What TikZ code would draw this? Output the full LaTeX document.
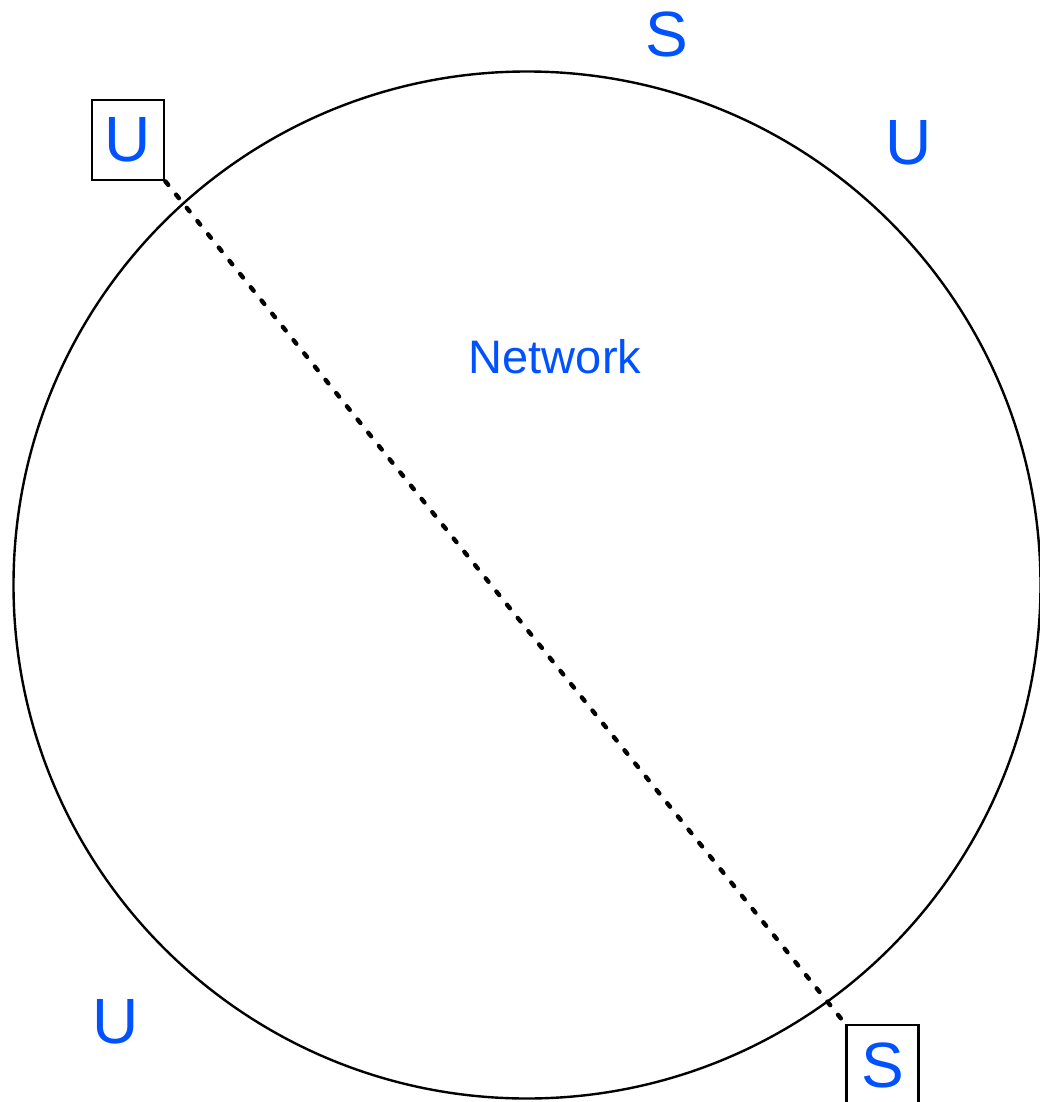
\documentclass[tikz,border=0pt]{standalone}
\usepackage{fontspec}
\setmainfont{Liberation Sans}
\definecolor{lblue}{RGB}{0,82,255}
\begin{document}
\begin{tikzpicture}[x=1pt,y=-1pt,
  lbl/.style={text=lblue, font=\fontsize{64}{64}\selectfont, inner sep=0pt},
  boxnode/.style={draw, line width=2.8pt, minimum width=72pt, minimum height=80pt, inner sep=0pt, text=lblue, font=\fontsize{64}{64}\selectfont},
  ring/.style={draw, circle, line width=2.4pt, minimum size=1027pt, inner sep=0pt},
  link/.style={line width=4.4pt, line cap=round, dash pattern=on 4.5pt off 12.5pt}]
\useasboundingbox (0,0) rectangle (1040,1102);
\clip (0,0) rectangle (1040,1102);
\node[ring] (net) at (527,585) {};
\node[text=lblue, font=\fontsize{47}{47}\selectfont, inner sep=0pt] (netlbl) at (555,357) {Network};
\node[boxnode] (ubox) at (128,140) {U};
\node[boxnode] (sbox) at (882.5,1065) {S};
\node[lbl] (stop) at (667,34) {S};
\node[lbl] (uright) at (909,143) {U};
\node[lbl] (uleft) at (116,1022) {U};
\draw[link] (ubox.south east) -- (sbox.north west);
\end{tikzpicture}
\end{document}
